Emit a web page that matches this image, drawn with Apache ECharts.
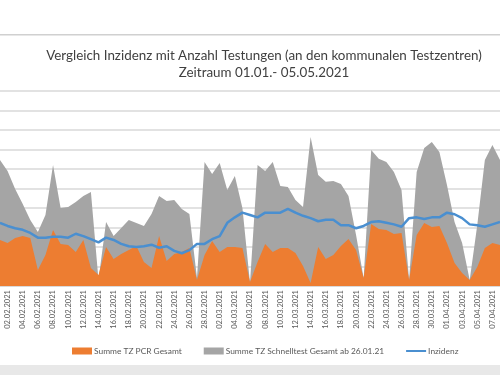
<!DOCTYPE html>
<html>
<head>
<meta charset="utf-8">
<script src="https://cdn.jsdelivr.net/npm/echarts@6/dist/echarts.min.js"></script>
<style>
  html, body { margin: 0; padding: 0; background: #fff; }
  #chart { width: 500px; height: 375px; }
</style>
</head>
<body>
<div id="chart"></div>
<script>
// Tage 01.02.2021 - 08.04.2021 (sichtbarer Ausschnitt)
const dates = [
  '01.02.2021','02.02.2021','03.02.2021','04.02.2021','05.02.2021','06.02.2021','07.02.2021','08.02.2021','09.02.2021','10.02.2021',
  '11.02.2021','12.02.2021','13.02.2021','14.02.2021','15.02.2021','16.02.2021','17.02.2021','18.02.2021','19.02.2021','20.02.2021',
  '21.02.2021','22.02.2021','23.02.2021','24.02.2021','25.02.2021','26.02.2021','27.02.2021','28.02.2021','01.03.2021','02.03.2021',
  '03.03.2021','04.03.2021','05.03.2021','06.03.2021','07.03.2021','08.03.2021','09.03.2021','10.03.2021','11.03.2021','12.03.2021',
  '13.03.2021','14.03.2021','15.03.2021','16.03.2021','17.03.2021','18.03.2021','19.03.2021','20.03.2021','21.03.2021','22.03.2021',
  '23.03.2021','24.03.2021','25.03.2021','26.03.2021','27.03.2021','28.03.2021','29.03.2021','30.03.2021','31.03.2021','01.04.2021',
  '02.04.2021','03.04.2021','04.04.2021','05.04.2021','06.04.2021','07.04.2021','08.04.2021'
];

const pcrGesamt = [
  236,221,246,257,246,82,159,287,215,210,
  174,236,92,56,200,139,164,185,205,123,
  92,257,128,164,174,195,31,159,231,174,
  200,200,195,21,123,215,174,195,195,169,
  103,15,200,139,159,205,241,185,41,318,
  292,287,267,272,31,262,323,303,308,221,
  118,67,31,97,195,221,210
];

const schnelltestGesamt = [
  646,590,498,421,339,277,364,621,400,405,
  431,462,482,31,328,257,298,339,323,308,
  369,462,436,441,395,369,41,636,575,631,
  492,564,400,15,621,590,636,513,508,441,
  405,764,569,534,539,523,462,262,41,698,
  652,636,585,492,31,585,708,739,687,518,
  328,221,31,313,646,723,646
];

const inzidenz = [
  81,77,74,72,68,62,62,63,63,62,
  67,64,60,56,62,59,54,51,50,51,
  53,49,51,45,42,46,54,54,60,64,
  81,88,94,91,88,94,94,94,99,94,
  90,87,83,85,85,78,78,74,77,82,
  83,81,79,76,87,88,86,88,88,94,
  92,87,79,78,76,79,82
];

const chart = echarts.init(document.getElementById('chart'));

// duenne Linie als Legendensymbol (leere Teilpfade halten die Box 20x7)
const lineIcon = 'path://M0,0L0.01,0ZM0,7L0.01,7ZM0,2.6L20,2.6L20,4.4L0,4.4Z';

const option = {
  animation: false,
  textStyle: { fontFamily: 'Lato, "Open Sans", sans-serif' },
  color: ['#a5a5a5', '#ed7d31', '#4a8fd0'],
  title: {
    text: 'Vergleich Inzidenz mit Anzahl Testungen (an den kommunalen Testzentren)\nZeitraum 01.01.- 05.05.2021',
    left: 259,
    top: 42,
    textAlign: 'center',
    textStyle: {
      fontSize: 13.4,
      fontWeight: 'normal',
      color: '#404040',
      lineHeight: 17,
      fontFamily: 'Lato, sans-serif'
    }
  },
  graphic: [
    { type: 'rect', shape: { x: 0, y: 34, width: 500, height: 1.5 }, style: { fill: '#d0d0d0' }, silent: true },
    { type: 'rect', shape: { x: 0, y: 365, width: 500, height: 10 }, style: { fill: '#e8e8e8' }, silent: true }
  ],
  legend: {
    bottom: 15,
    left: 67,
    itemWidth: 20,
    itemHeight: 7,
    itemGap: 22,
    textStyle: { fontSize: 8.4, color: '#595959', padding: [0, 0, 0, -3] },
    data: [
      { name: 'Summe TZ PCR Gesamt', icon: 'rect' },
      { name: 'Summe TZ Schnelltest Gesamt ab 26.01.21', icon: 'rect' },
      { name: 'Inzidenz', icon: lineIcon }
    ]
  },
  grid: { left: -6, right: -7, top: 91, bottom: 89, containLabel: false },
  xAxis: {
    type: 'category',
    data: dates,
    boundaryGap: false,
    axisTick: { show: false },
    axisLine: { lineStyle: { color: '#d9d9d9' } },
    axisLabel: {
      rotate: 90,
      fontSize: 7.6,
      color: '#595959',
      margin: 4,
      interval: function (idx) { return idx % 2 === 1; }
    },
    splitLine: { show: false }
  },
  yAxis: [
    {
      type: 'value',
      min: 0,
      max: 1000,
      interval: 100,
      axisLabel: { show: false },
      axisLine: { show: false },
      axisTick: { show: false },
      splitLine: { lineStyle: { color: '#d9d9d9', width: 1.5 } }
    },
    {
      type: 'value',
      min: 0,
      max: 250,
      interval: 25,
      axisLabel: { show: false },
      axisLine: { show: false },
      axisTick: { show: false },
      splitLine: { show: false }
    }
  ],
  series: [
    {
      name: 'Summe TZ Schnelltest Gesamt ab 26.01.21',
      type: 'line',
      data: schnelltestGesamt,
      symbol: 'none',
      lineStyle: { width: 0 },
      areaStyle: { color: '#a5a5a5', opacity: 1 },
      itemStyle: { color: '#a5a5a5' },
      z: 1
    },
    {
      name: 'Summe TZ PCR Gesamt',
      type: 'line',
      data: pcrGesamt,
      symbol: 'none',
      lineStyle: { width: 0 },
      areaStyle: { color: '#ed7d31', opacity: 1 },
      itemStyle: { color: '#ed7d31' },
      z: 2
    },
    {
      name: 'Inzidenz',
      type: 'line',
      yAxisIndex: 1,
      data: inzidenz,
      symbol: 'none',
      lineStyle: { width: 2.5, color: '#4a8fd0' },
      itemStyle: { color: '#4a8fd0' },
      z: 3
    }
  ]
};

chart.setOption(option);
</script>
</body>
</html>
